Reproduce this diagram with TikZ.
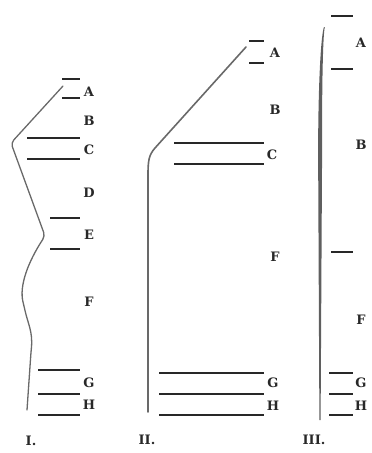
\documentclass[tikz,border=0pt]{standalone}
\usepackage{fontspec}
\usepackage{tikz}
\usepackage{xcolor}
\usetikzlibrary{calc}
\newfontfamily\labfont{DejaVu Serif}
\definecolor{inkc}{RGB}{40,40,40}
\definecolor{trace}{RGB}{105,105,105}

\begin{document}
\begin{tikzpicture}[x=1pt,y=-1pt,
  lev/.style={inkc,line width=1.5pt},
  tag/.style={font=\labfont\fontsize{13}{15}\selectfont\bfseries,inkc,inner sep=0pt},
  curve/.style={trace,line width=1.3pt,line cap=round}]

\useasboundingbox (0,0) rectangle (372,453);

% level lines: {x1, x2, y}
\foreach \xa/\xb/\y in {
   62/80/79, 62/80/98, 27/80/138, 27/80/159, 50/80/218, 50/80/249,
   38/80/370, 38/80/394, 38/80/415,
   249/264/41, 249/264/63, 174/264/143, 174/264/164,
   159/264/373, 159/264/394, 159/264/415,
   331/353/16, 331/353/69, 331/353/252,
   329/353/373, 329/353/394, 329/353/415}{
  \draw[lev] (\xa,\y) -- (\xb,\y);
}

% labels: {name, x, y, text}
\foreach \n/\x/\y/\t in {
   iA/89/92/A, iB/89/121/B, iC/89/150/C, iD/89/193/D, iE/89/235/E,
   iF/89/302/F, iG/89/383/G, iH/89/405/H, inum/31/441/I.,
   iiA/275/53/A, iiB/275/110/B, iiC/272/155/C, iiF/275/257/F,
   iiG/273/383/G, iiH/273/406/H, iinum/147/440/II.,
   iiiA/361/43/A, iiiB/361/145/B, iiiF/361/320/F,
   iiiG/361/383/G, iiiH/361/406/H, iiinum/314/440/III.}{
  \node[tag] (\n) at (\x,\y) {\t};
}

% column I
\draw[curve,rounded corners=4pt] (63,86) -- (11,143) -- (45,236)
  .. controls (28,262) and (19,286) .. (24,306)
  .. controls (28,324) and (33,332) .. (31,352) -- (27,410);

% column II
\draw[curve,line width=1.6pt] (246,47) -- (155,148)
  .. controls (149,155) and (148,160) .. (148,175) -- (148,412);

% column III
\fill[trace!90!black] (324,27) .. controls (321,35) and (318.3,80) .. (318.1,150)
  -- (319.4,420) -- (320.6,420) -- (322.1,150)
  .. controls (321.9,80) and (323,35) .. (324.8,27) -- cycle;

\end{tikzpicture}
\end{document}
